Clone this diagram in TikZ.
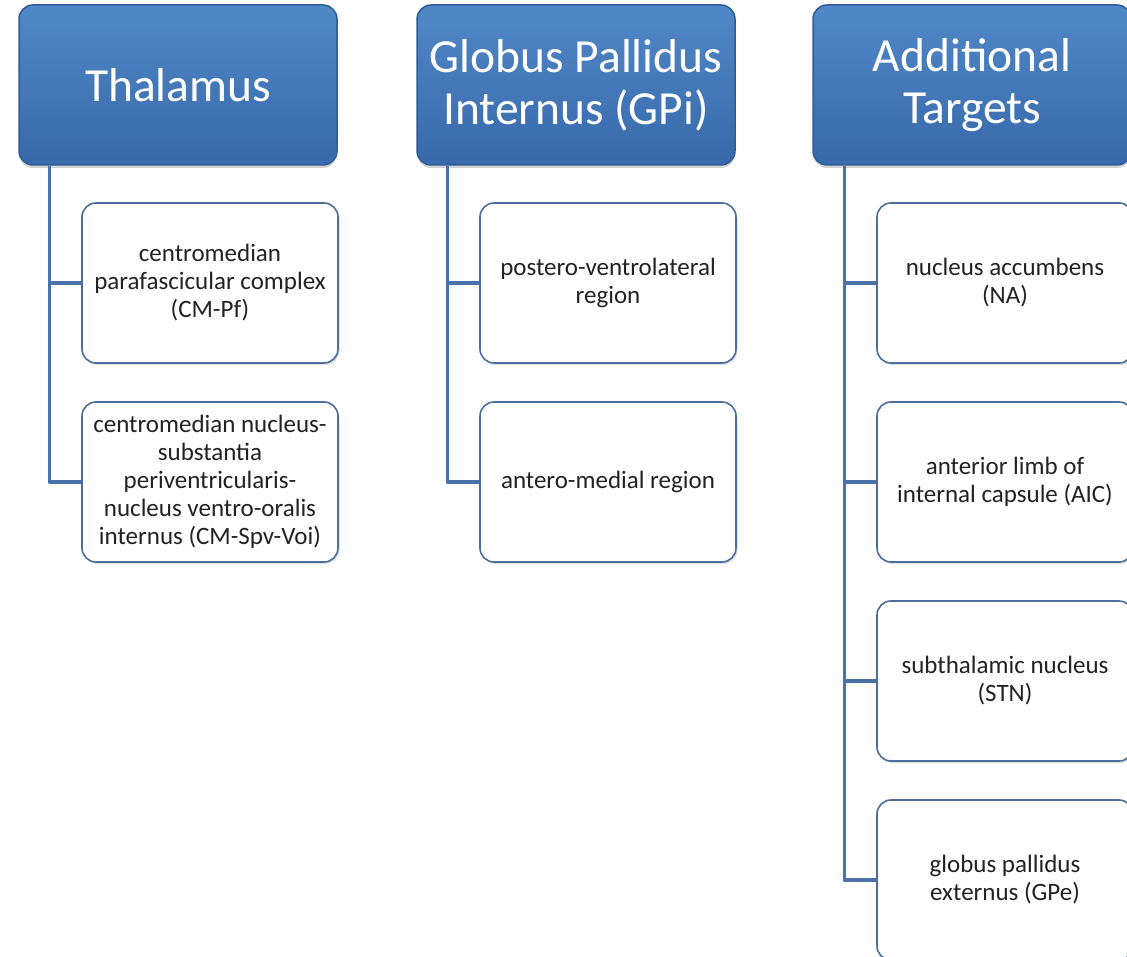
\documentclass[tikz,border=0pt]{standalone}
\usepackage{fontspec}
\setmainfont{Carlito}
\usetikzlibrary{positioning,shadows}
\definecolor{headtop}{HTML}{5088C8}
\definecolor{headbot}{HTML}{3869AA}
\definecolor{headline}{HTML}{2E5C96}
\definecolor{boxline}{HTML}{4C6E9C}
\definecolor{trunk}{HTML}{4A72AA}
\definecolor{ink}{HTML}{222222}

\begin{document}
\begin{tikzpicture}[
  x=1pt,y=1pt,
  line join=round,
  head/.style={draw=headline, line width=1.5pt, rounded corners=14pt,
    top color=headtop, bottom color=headbot, text=white, align=center,
    minimum width=318pt, minimum height=160pt, inner sep=0pt,
    font=\fontsize{47.5}{52}\selectfont,
    drop shadow={opacity=.35, shadow xshift=0pt, shadow yshift=-3pt}},
  item/.style={draw=boxline, line width=1.6pt, rounded corners=14pt,
    fill=white, text=ink, align=center,
    minimum width=256pt, minimum height=160pt, inner sep=0pt,
    font=\fontsize{25}{28}\selectfont,
    drop shadow={opacity=.25, shadow xshift=1.5pt, shadow yshift=-2pt}},
  link/.style={draw=trunk, line width=3.2pt}
]
\useasboundingbox (0,0) rectangle (1127,-957);
\clip (0,0) rectangle (1127,-957);

% column headers
\node[head] (thal) at (178,-85) {Thalamus};
\node[head] (gpi) at (576,-85) {Globus Pallidus\\Internus (GPi)};
\node[head] (addt) at (972,-85) {Additional\\Targets};

% thalamus targets
\node[item] (cmpf) at (210,-283) {centromedian\\parafascicular complex\\(CM-Pf)};
\node[item] (cmspv) at (210,-482) {centromedian nucleus-\\substantia\\periventricularis-\\nucleus ventro-oralis\\internus (CM-Spv-Voi)};

% GPi targets
\node[item] (pvl) at (608,-283) {postero-ventrolateral\\region};
\node[item] (amr) at (608,-482) {antero-medial region};

% additional targets
\node[item] (na) at (1005,-283) {nucleus accumbens\\(NA)};
\node[item] (aic) at (1005,-482) {anterior limb of\\internal capsule (AIC)};
\node[item] (stn) at (1005,-681) {subthalamic nucleus\\(STN)};
\node[item] (gpe) at (1005,-880) {globus pallidus\\externus (GPe)};

% trunks
\coordinate (thaltrunk) at ([xshift=31pt]thal.south west);
\coordinate (gpitrunk) at ([xshift=31pt]gpi.south west);
\coordinate (addttrunk) at ([xshift=32pt]addt.south west);

\draw[link] (thaltrunk) |- (cmpf.west);
\draw[link] (thaltrunk) |- (cmspv.west);
\draw[link] (gpitrunk) |- (pvl.west);
\draw[link] (gpitrunk) |- (amr.west);
\foreach \t in {na,aic,stn,gpe}{
  \draw[link] (addttrunk) |- (\t.west);
}
\end{tikzpicture}
\end{document}
